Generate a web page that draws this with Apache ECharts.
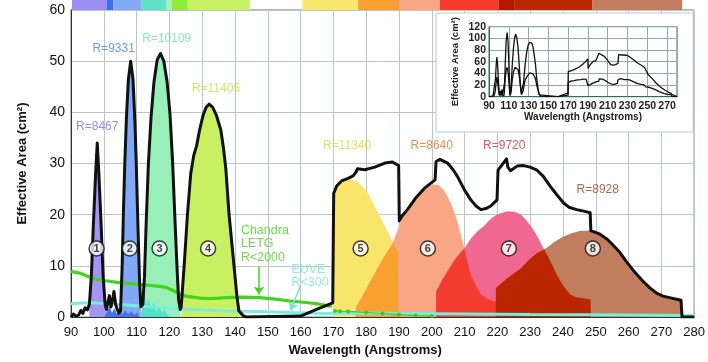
<!DOCTYPE html>
<html><head><meta charset="utf-8">
<script src="https://cdn.jsdelivr.net/npm/echarts@6/dist/echarts.min.js"></script>
<style>html,body{margin:0;padding:0;background:#fff}#c{width:708px;height:362px}</style>
</head><body><div id="c"></div>
<script>
// ---- data (wavelength in Angstroms, effective area in cm^2) ----
const totalArea = [[90,0],[90.7,0.6],[91.5,0.2],[92.3,0.4],[93,1.3],[93.6,0.7],[94.3,1.8],[95,1.4],[95.6,2.5],
 [96.2,8],[96.8,17.8],[97.5,28],[98,34],[98.5,28],[99.2,17.8],[99.8,8],[100.4,2.5],[100.8,1.5],
 [101.3,3],[101.7,4.2],[102.2,2],[102.7,3.5],[103.1,5],[103.6,2.5],[104.1,1.5],[104.6,0.8],[105.1,1.2],
 [105.6,10],[106,21],[106.4,30],[106.9,39],[107.5,46.5],[108.2,50],[108.9,46.5],[109.5,38],[109.9,30],[110.4,18],[110.9,7],[111.3,2],
 [111.9,2.5],[112.4,8],[112.9,18],[113.6,30],[114.4,39],[115.3,46],[116.3,50.3],[117.3,51.5],[118.3,50],[119.3,46],[120.2,39.5],[121,30],[121.7,19],[122.3,10],[122.8,3.5],[123.3,1.5],
 [123.6,2],[124.5,10],[125.5,20],[126.5,28],[127.4,31.5],[128.3,33.5],[129.2,36.5],[130.3,39.5],[131.2,41],[132.1,41.6],[133.2,41],[134.4,39.3],[135.7,36.5],[136.5,33],[137.2,29],[138.2,20],[139.7,10],[140.6,4],[141.2,1.2],[142.5,0.3],[143.5,0],
 [160,0.2],[166,1.8],[169.8,2.8],[170.1,24.2],[171,25.6],[172.5,26.6],[174.5,27.1],[176,27.6],[177,28.4],[177.3,29],[179.6,28.8],[182.6,29.3],[185.7,30.1],[188,30.3],[189.9,29.6],
 [190.1,18.8],[191,19.8],[192.7,21.1],[195,23.2],[198,25.3],[201,26.8],[201.3,30.4],[202.5,30.8],[204.8,30.1],[206.5,28.8],[207.9,27.4],[210,24.8],[211.9,22.9],[213.5,21.7],[215,21],[216.5,21.2],[218,21.7],[219.9,22.9],
 [220.2,28.7],[222.8,30.9],[223.2,29.3],[224,28.6],[226,29.5],[228,29.6],[230,29.3],[232.1,28.7],[234,27.5],[236.2,25.5],[238,24],[240.2,22.3],[242,21.4],[244.2,21],[246.3,20.7],[248.3,20.4],
 [248.5,16.9],[251.3,16.2],[253.5,15.2],[255.4,14],[257.5,12.5],[259.4,10.8],[262,8.7],[264.4,7],[266.5,5.7],[268.5,4.7],[270.5,4.1],[272.5,3.8],[276,3.3],[276.3,0],[280,0]];

const insetUpper = [[90,0],[94,1],[95.5,4],[96.5,30],[97.3,55],[98,68],[98.7,55],[99.5,30],[100.3,6],[101,2],[101.7,10],[102.3,3],[103,12],[103.7,3],[104.5,0.5],[105.2,2],
 [105.8,25],[106.5,60],[107.3,95],[108.3,110],[109.2,95],[110,60],[110.7,25],[111.3,5],[111.8,6],[112.5,20],[113.5,55],[114.8,85],[116,102],[117,107],[118,102],[119.3,85],[120.5,55],[121.5,25],[122.5,6],[123.3,3],
 [124,6],[125,25],[126.5,55],[128,75],[129.5,88],[131,93],[132,94],[133.2,92],[134.5,85],[135.8,70],[137,55],[138.3,30],[139.7,12],[141,3],[142.5,0],[160,0],[166,4],[169.8,6],
 [170.1,43],[174.9,45.7],[178,48],[181.6,51.4],[185,56],[188,61],[190,64.6],[190.1,48.6],[192,54],[195,60],[198,62],[201.1,74.4],[203,74],[206.9,68.6],[210,62],[213,55],[215.3,54.3],[218,55],[220.4,57.3],
 [221,72],[221.4,74.4],[222.2,70],[223.7,71.5],[227,71.5],[230.4,70.3],[234,66],[237,62],[240.5,57.3],[244,54],[247.3,50],[248,48.7],[250.6,38.4],[255,31],[259.1,23],[263,17],[267.5,11.5],[271,8],[274.2,5.8],[275,0],[280,0]];

const peakRanges = [[95.5,100.9],[104.9,111.45],[111.45,123.35],[123.35,143.5]];
const peakColors = ['#a396f2','#82a9f6','#98f0b8','#c9f062'];

const bumpBlue = [[100.2,0],[101,1.2],[101.8,2.2],[102.5,0.8],[103.2,1.8],[104,0.6],[104.8,1.4],[105.6,0.5],[106.5,1.3],[107.4,0.6],[108.4,1.2],[109.3,0.4],[110.2,0.9],[111,0]];
const bumpTeal = [[111.2,0],[111.8,2.5],[112.4,5.2],[113,2.2],[113.7,3.6],[114.4,1.4],[115.2,2.8],[116,1],[116.8,2.2],[117.6,0.8],[118.5,1.4],[119.5,0.3],[120.3,0]];

const bellYellow = [[170,0],[170.05,24.2],[171,25.6],[172.5,26.5],[174,26.9],[175.6,26.9],[177.5,26.3],[179,25.4],[180.6,24.2],[182,22.4],[183.6,20.4],[185.2,18.4],[186.7,16.5],[188.7,14],[189.75,12.7],[189.8,0]];
const bellSalmon = [[176.8,0],[176.85,1.9],[179,4.2],[182,7.8],[184,10.1],[186,12.4],[188.2,14.6],[190,17.8],[191.2,19.7],[193,21.8],[195,23.4],[197,24.7],[198.8,25.5],[200.5,25.9],[202,25.8],[203.5,25],[204.8,23.6],[206.4,21.3],[207.9,18.5],[209,15.8],[209.9,13.4],[211,10.5],[211.9,8.2],[213,6.8],[214,5.5],[215,4.4],[217,3.6],[219,3.1],[223.4,3.1],[223.5,0]];
const bellPink = [[201.3,0],[201.35,5],[203,7],[204.8,8.9],[207,11.2],[209.9,13.4],[212,15.4],[214,16.8],[215.9,17.8],[218,19.2],[220,20.1],[223,20.7],[225,20.6],[227.1,20.1],[229,18.8],[230.5,17.5],[232.1,15.9],[233.6,14],[235.2,12.1],[236.7,10.2],[238.2,8.2],[240,6.2],[242.2,4.4],[244,3.9],[246,3.7],[248.4,3.5],[248.5,0]];
const bellBrown = [[219.5,0],[219.55,5.7],[223,7.6],[227.1,9.5],[230,11.4],[232.1,12.5],[235.2,13.6],[237.2,14.6],[240,15.7],[242.2,16.3],[245,16.8],[248.3,16.9],[251.3,16.2],[253.5,15.2],[255.4,14],[257.5,12.5],[259.4,10.8],[262,8.7],[264.4,7],[266.5,5.7],[268.5,4.7],[270.5,4.1],[272.5,3.8],[276,3.3],[276.1,0]];
const overlapOrange = [[176.8,0],[176.85,1.9],[179,4.2],[182,7.8],[184,10.1],[186,12.4],[188.2,14.3],[188.7,14],[189.75,12.7],[189.8,0]];
const overlapRed = [[201.3,0],[201.35,5],[203,7],[204.8,8.9],[207,11.2],[209.9,13.4],[211,10.5],[211.9,8.2],[213,6.8],[214,5.5],[215,4.4],[217,3.6],[219,3.1],[223.4,3.1],[223.5,0]];
const overlapDarkRed = [[219.5,0],[219.55,5.7],[223,7.6],[227.1,9.5],[230,11.4],[232.1,12.5],[234.3,13.2],[235.2,12.1],[236.7,10.2],[238.2,8.2],[240,6.2],[242.2,4.4],[244,3.9],[246,3.7],[248.4,3.5],[248.5,0]];

const chandraLetg = [[90,8.9],[92.7,8.6],[95,8],[96.8,7.6],[99,7.2],[101.8,7],[104,6.8],[106.9,6.6],[109,6.5],[111.9,6.3],[114,6.2],[117,6],[119,5.8],[120.5,5.4],[122,4.9],[123.5,4.4],[125,4.1],[127,3.9],[129.5,3.7],[132.1,3.6],[135,3.7],[137.2,3.8],[142.2,3.9],[147.3,3.8],[152.3,3.5],[157.4,3.1],[162.4,2.8],[165,2.6],[167.5,2.3],[169.5,2.1]];
const chandraDots = [[170.5,1.2],[172,1.15],[174.5,1.1],[180,0.9],[185,0.7],[190,0.5],[195,0.3],[200,0.2]];
const euve = [[90,2.6],[93,2.75],[96.8,2.8],[99,2.7],[101.8,2.6],[106,2.4],[109.9,2.2],[113,2.05],[117,1.9],[122,1.7],[127,1.5],[132,1.35],[137.2,1.2],[142,1.15],[147.3,1.1],[152,1.0],[157.4,0.9],[162,0.8],[167.5,0.7],[175,0.8],[190,0.7],[210,0.6],[230,0.5],[250,0.45],[270,0.35],[280,0.3]];

const resolutionTexts = ['R=8467','R=9331','R=10109','R=11405','R=11340','R=8640','R=9720','R=8928'];
const resolutionAt = [[98,37.2],[103,52.5],[119.2,54.4],[134.2,44.7],[174.2,33.5],[200,33.5],[222.1,33.5],[250.6,24.9]];
const resolutionColors = ['#7b6ee8','#4c7be6','#6ae3a6','#b8e43e','#f0cd2c','#f06c1e','#e0263c','#a4401a'];

const channelIds = ['1','2','3','4','5','6','7','8'];
const channelAt = [[97.8,13.4],[107.9,13.4],[117,13.4],[131.8,13.4],[178.3,13.4],[198.8,13.4],[223.5,13.4],[249.1,13.4]];

const bandStart = [90.3,100.8,102.8,111.4,118.8,120.6,125.4,160.1,177,189.4,201.8,219.5,224.5,247.9];
const bandEnd   = [100.8,102.8,111.4,118.8,120.6,125.4,144.2,177,189.4,201.8,219.5,224.5,247.9,275.2];
const bandColor = ['#9d8ff1','#3f6ef0','#84aaf6','#5fe2c9','#a6f0b4','#8eec3a','#c9f062','#f9e66e','#f8a131','#f9a685','#f53c2d','#b51800','#ba2a02','#c17d5d'];

// ---- chart ----
const FONT = 'Liberation Sans, Arial, sans-serif';
const chart = echarts.init(document.getElementById('c'), null, {renderer:'canvas'});
const fill = (data, color, z) => ({type:'line', data, xAxisIndex:0, yAxisIndex:0, symbol:'none', silent:true,
  lineStyle:{width:0}, areaStyle:{color, opacity:1}, z});

const series = [];
peakRanges.forEach((r,i)=>series.push(fill(totalArea.filter(p=>p[0]>=r[0]&&p[0]<=r[1]), peakColors[i], 2)));
series.push(fill(bumpBlue,'#4a72e8',3));
series.push(fill(bumpTeal,'#55e0c8',3));
series.push(fill(bellYellow,'#f9e46c',3));
series.push(fill(bellSalmon,'#f9a685',3));
series.push(fill(bellPink,'#f06890',3));
series.push(fill(bellBrown,'#c17e5e',3));
series.push(fill(overlapOrange,'#f8a131',3));
series.push(fill(overlapRed,'#f43c2e',3));
series.push(fill(overlapDarkRed,'#b92600',3));
series.push({type:'line', data:euve, symbol:'none', lineStyle:{color:'#7aeede', width:3}, z:4, silent:true,
  markLine:{silent:true, symbol:['none','arrow'], symbolSize:8, label:{show:false},
    lineStyle:{color:'#6fe6d6', width:1.5, type:'solid'},
    data:[[{coord:[159.9,6]},{coord:[156.9,1.3]}]]}});
series.push({type:'line', data:chandraLetg, symbol:'none', lineStyle:{color:'#44d41c', width:3.2}, z:4, silent:true,
  markLine:{silent:true, symbol:['none','arrow'], symbolSize:8, label:{show:false},
    lineStyle:{color:'#44d41c', width:1.5, type:'solid'},
    data:[[{coord:[147.3,9.8]},{coord:[147.3,4.4]}]]}});
series.push({type:'line', data:chandraDots, symbol:'circle', symbolSize:4, showAllSymbol:true,
  itemStyle:{color:'#3ccc1a'}, lineStyle:{color:'#3ccc1a', width:1.2}, z:4, silent:true});
series.push({type:'line', data:totalArea, symbol:'none', lineStyle:{color:'#111', width:3, join:'round'}, z:5, silent:true});
series.push({type:'scatter', data:channelAt.map((p,i)=>({value:p, name:channelIds[i]})), symbol:'circle', symbolSize:15,
  itemStyle:{color:'#fff', borderColor:'#111', borderWidth:1.5}, z:6, silent:true,
  label:{show:true, position:'inside', formatter:'{b}', color:'#111', fontSize:11, fontWeight:'bold', fontFamily:FONT}});
series.push({type:'scatter', data:resolutionAt.map((p,i)=>({value:p, name:resolutionTexts[i],
  label:{color:resolutionColors[i]}})), symbolSize:1, itemStyle:{color:'rgba(0,0,0,0)'}, z:6, silent:true,
  label:{show:true, position:'inside', formatter:'{b}', fontSize:12, fontFamily:FONT}});
series.push({type:'scatter', data:[{value:[141.8,18.3], name:'Chandra\nLETG\nR<2000', label:{color:'#44d41c'}},
                                   {value:[157.2,10.7], name:'EUVE\nR<300', label:{color:'#6fe6d6'}}],
  symbolSize:1, itemStyle:{color:'rgba(0,0,0,0)'}, z:6, silent:true,
  label:{show:true, position:'inside', align:'left', verticalAlign:'top', lineHeight:13.5, formatter:'{b}', fontSize:12.5, fontFamily:FONT}});
// top colour band
series.push({type:'line', xAxisIndex:1, yAxisIndex:1, data:[], symbol:'none', silent:true,
  markArea:{silent:true, data: bandStart.map((s,i)=>[{xAxis:s, itemStyle:{color:bandColor[i]}},{xAxis:bandEnd[i]}])}});
// inset
series.push({type:'line', xAxisIndex:2, yAxisIndex:2, data:insetUpper, symbol:'none', lineStyle:{color:'#111', width:1.3}, z:12, silent:true});
series.push({type:'line', xAxisIndex:2, yAxisIndex:2, data:totalArea, symbol:'none', lineStyle:{color:'#111', width:1.3}, z:12, silent:true});

chart.setOption({
  animation:false,
  textStyle:{fontFamily:FONT},
  grid:[
    {left:71, right:10, top:10, bottom:39, show:true, borderColor:'#4c7a78', borderWidth:1},
    {left:71, right:10, top:0, height:10},
    {left:489, right:31, top:26.7, height:70, show:true, borderColor:'#3f6464', borderWidth:1, z:11}
  ],
  graphic:[{type:'rect', shape:{x:436, y:13, width:257, height:119}, style:{fill:'#fff', stroke:'#c4c8c8', lineWidth:1}, z:8, silent:true}],
  xAxis:[
    {gridIndex:0, type:'value', min:90, max:280, interval:10,
     axisLine:{show:true, onZero:false, lineStyle:{color:'#333', width:1}}, axisTick:{show:false},
     splitLine:{show:true, lineStyle:{color:'#b8c8c8', width:1}},
     axisLabel:{fontSize:13, color:'#111', margin:9},
     name:'Wavelength (Angstroms)', nameLocation:'middle', nameGap:22,
     nameTextStyle:{fontSize:13, fontWeight:'bold', color:'#111', padding:[0,35,0,0]}},
    {gridIndex:1, type:'value', min:90, max:280, show:false},
    {gridIndex:2, type:'value', min:90, max:280, interval:20, z:11,
     axisLine:{show:true, onZero:false, lineStyle:{color:'#3f6464'}}, axisTick:{show:false},
     splitLine:{show:true, lineStyle:{color:'#8eaaaa', width:1}},
     axisLabel:{fontSize:10.5, fontWeight:'bold', color:'#222', margin:4},
     name:'Wavelength (Angstroms)', nameLocation:'middle', nameGap:15,
     nameTextStyle:{fontSize:10, fontWeight:'bold', color:'#222'}}
  ],
  yAxis:[
    {gridIndex:0, type:'value', min:0, max:60, interval:10,
     axisLine:{show:true, lineStyle:{color:'#333', width:1}}, axisTick:{show:false},
     splitLine:{show:true, lineStyle:{color:'#b8c8c8', width:1}},
     axisLabel:{fontSize:14, color:'#111', margin:6},
     name:'Effective Area (cm²)', nameLocation:'middle', nameGap:42,
     nameTextStyle:{fontSize:13, fontWeight:'bold', color:'#111'}},
    {gridIndex:1, type:'value', min:0, max:1, show:false},
    {gridIndex:2, type:'value', min:0, max:120, interval:20, z:11,
     axisLine:{show:true, lineStyle:{color:'#3f6464'}}, axisTick:{show:false},
     splitLine:{show:true, lineStyle:{color:'#8eaaaa', width:1}},
     axisLabel:{fontSize:10.5, fontWeight:'bold', color:'#222', margin:3},
     name:'Effective Area (cm²)', nameLocation:'middle', nameGap:29,
     nameTextStyle:{fontSize:9.5, fontWeight:'bold', color:'#222'}}
  ],
  series
});
</script></body></html>
